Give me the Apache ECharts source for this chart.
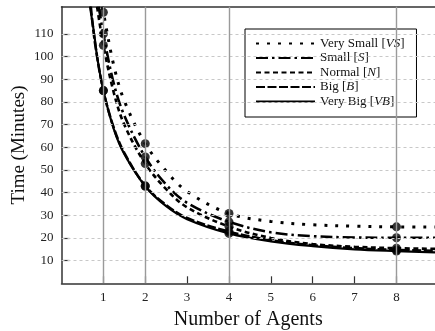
<!DOCTYPE html>
<html>
<head>
<meta charset="utf-8">
<script src="https://cdn.jsdelivr.net/npm/echarts@6/dist/echarts.min.js"></script>
<style>
  html, body { margin: 0; padding: 0; background: #fff; }
  #chart { width: 435px; height: 331px; }
</style>
</head>
<body>
<div id="chart"></div>
<script>
// Measured run times (minutes) at 1, 2, 4 and 8 agents
const agents = [1, 2, 4, 8];
const timeVS = [119.5, 61.6, 30.8, 24.9];
const timeS  = [110, 55.7, 27.1, 20.1];
const timeN  = [105, 52.8, 25, 15.5];
const timeB  = [85, 43, 22.8, 14.7];
const timeVB = [85, 42.8, 22, 14.2];

// Fitted curves, [agents, minutes]
const curveVS = [[0.98,122],[1,119.5],[1.25,96],[1.5,80.5],[2,61.6],[2.5,49.5],[3,40.5],[4,30.8],[5,27.3],[6,25.8],[7,25.2],[8,24.9],[8.92,24.8]];
const curveS  = [[0.89,122],[1,110],[1.25,88],[1.5,74],[2,55.7],[2.5,43.5],[3,35.5],[4,27.1],[5,22.5],[6,20.8],[7,20.2],[8,20.1],[8.92,20.1]];
const curveN  = [[0.85,122],[1,105],[1.25,84],[1.5,70],[2,52.8],[2.5,41.5],[3,33.5],[4,25],[5,20],[6,17.3],[7,16.1],[8,15.5],[8.92,15.2]];
const curveB  = [[0.7,122],[0.8,106],[1,85],[1.25,68.5],[1.5,57.5],[2,43],[2.5,34.5],[3,28.8],[4,22.8],[5,19],[6,16.8],[7,15.5],[8,14.7],[8.92,14.3]];
const curveVB = [[0.68,122],[0.78,110],[0.85,100],[1,85],[1.25,68],[1.5,57],[2,42.8],[2.5,34],[3,28.3],[4,22],[5,18.5],[6,16.4],[7,15],[8,14.2],[8.92,13.6]];

const seriesNames = ['Very Small', 'Small', 'Normal', 'Big', 'Very Big'];
const seriesAbbr  = ['VS', 'S', 'N', 'B', 'VB'];

const xTicks = [1, 2, 3, 4, 5, 6, 7, 8];
const yTicks = [10, 20, 30, 40, 50, 60, 70, 80, 90, 100, 110];
const xGuides = [1, 2, 4, 8];

const SERIF = '"Liberation Serif", "DejaVu Serif", serif';

const times = [timeVS, timeS, timeN, timeB, timeVB];
const curves = [curveVS, curveS, curveN, curveB, curveVB];
const dashes = [[3, 8], [12, 4, 2.5, 4], [5, 3.5], [9, 2.5], 'solid'];
const widths = [3, 2.6, 2.6, 2.6, 2.2];

const fullName = i => seriesNames[i] + ' [' + seriesAbbr[i] + ']';

const curveSeries = curves.map((c, i) => ({
  name: fullName(i),
  type: 'line',
  data: c,
  smooth: 0.35,
  symbol: 'emptyCircle',
  showSymbol: false,
  clip: true,
  z: 3,
  lineStyle: { color: '#000', width: widths[i], type: dashes[i], cap: 'butt' },
  itemStyle: { color: '#000' }
}));

const markerData = [];
times.forEach(t => agents.forEach((a, j) => markerData.push([a, t[j]])));

const chart = echarts.init(document.getElementById('chart'), null, { renderer: 'canvas' });
chart.setOption({
  animation: false,
  backgroundColor: '#fff',
  grid: { left: 61.5, right: 0, top: 6.7, bottom: 47.7, containLabel: false, outerBoundsMode: 'none' },
  xAxis: [{
    type: 'value', min: 0, max: 8.92, interval: 1,
    name: 'Number of Agents', nameLocation: 'middle', nameGap: 26,
    nameTextStyle: { fontFamily: SERIF, fontSize: 20, color: '#111' },
    axisLine: { lineStyle: { color: '#333', width: 1.5 } },
    axisTick: { inside: true, length: 7, customValues: xTicks, lineStyle: { color: '#333', width: 1.2 } },
    axisLabel: { customValues: xTicks, fontFamily: SERIF, fontSize: 13, color: '#222', margin: 8 },
    splitLine: { show: false }
  }, {
    type: 'value', min: 0, max: 8.92, position: 'top',
    axisLine: { show: true, lineStyle: { color: '#333', width: 1.5 } },
    axisTick: { show: false }, axisLabel: { show: false }, splitLine: { show: false }
  }],
  yAxis: {
    type: 'value', min: 0, max: 122, interval: 10,
    name: 'Time (Minutes)', nameLocation: 'middle', nameGap: 33, nameMoveOverlap: false,
    nameTextStyle: { fontFamily: SERIF, fontSize: 19, color: '#111' },
    axisLine: { show: true, lineStyle: { color: '#333', width: 1.5 } },
    axisTick: { inside: true, length: 8, customValues: yTicks, lineStyle: { color: '#333', width: 1.2 } },
    axisLabel: { customValues: yTicks, fontFamily: SERIF, fontSize: 13, color: '#222', margin: 8 },
    splitLine: { show: false }
  },
  legend: {
    orient: 'vertical',
    left: 245, top: 29,
    padding: [8, 12, 9, 10],
    itemGap: 1.5,
    itemWidth: 59, itemHeight: 13,
    backgroundColor: '#fff',
    borderColor: '#000', borderWidth: 1,
    itemStyle: { opacity: 0, borderWidth: 0 },
    data: seriesNames.map((n, i) => fullName(i)),
    formatter: name => {
      const i = seriesNames.findIndex((n, k) => fullName(k) === name);
      return seriesNames[i] + ' [{i|' + seriesAbbr[i] + '}]';
    },
    textStyle: {
      fontFamily: SERIF, fontSize: 13, color: '#111',
      rich: { i: { fontFamily: SERIF, fontSize: 13, fontStyle: 'italic', color: '#111' } }
    }
  },
  series: [{
    name: 'guides',
    type: 'line',
    data: [],
    z: 1,
    markLine: {
      silent: true,
      symbol: ['none', 'none'],
      label: { show: false },
      animation: false,
      data: yTicks.map(v => ({ yAxis: v, lineStyle: { type: [3, 3], color: '#c8c8c8', width: 1 } }))
        .concat(xGuides.map(v => ({ xAxis: v, lineStyle: { type: 'solid', color: '#9a9a9a', width: 1.4 } })))
    }
  }].concat(curveSeries).concat([{
    name: 'measured',
    type: 'scatter',
    data: markerData,
    symbol: 'circle',
    symbolSize: 9,
    z: 4,
    itemStyle: { color: '#000' }
  }])
});
</script>
</body>
</html>
